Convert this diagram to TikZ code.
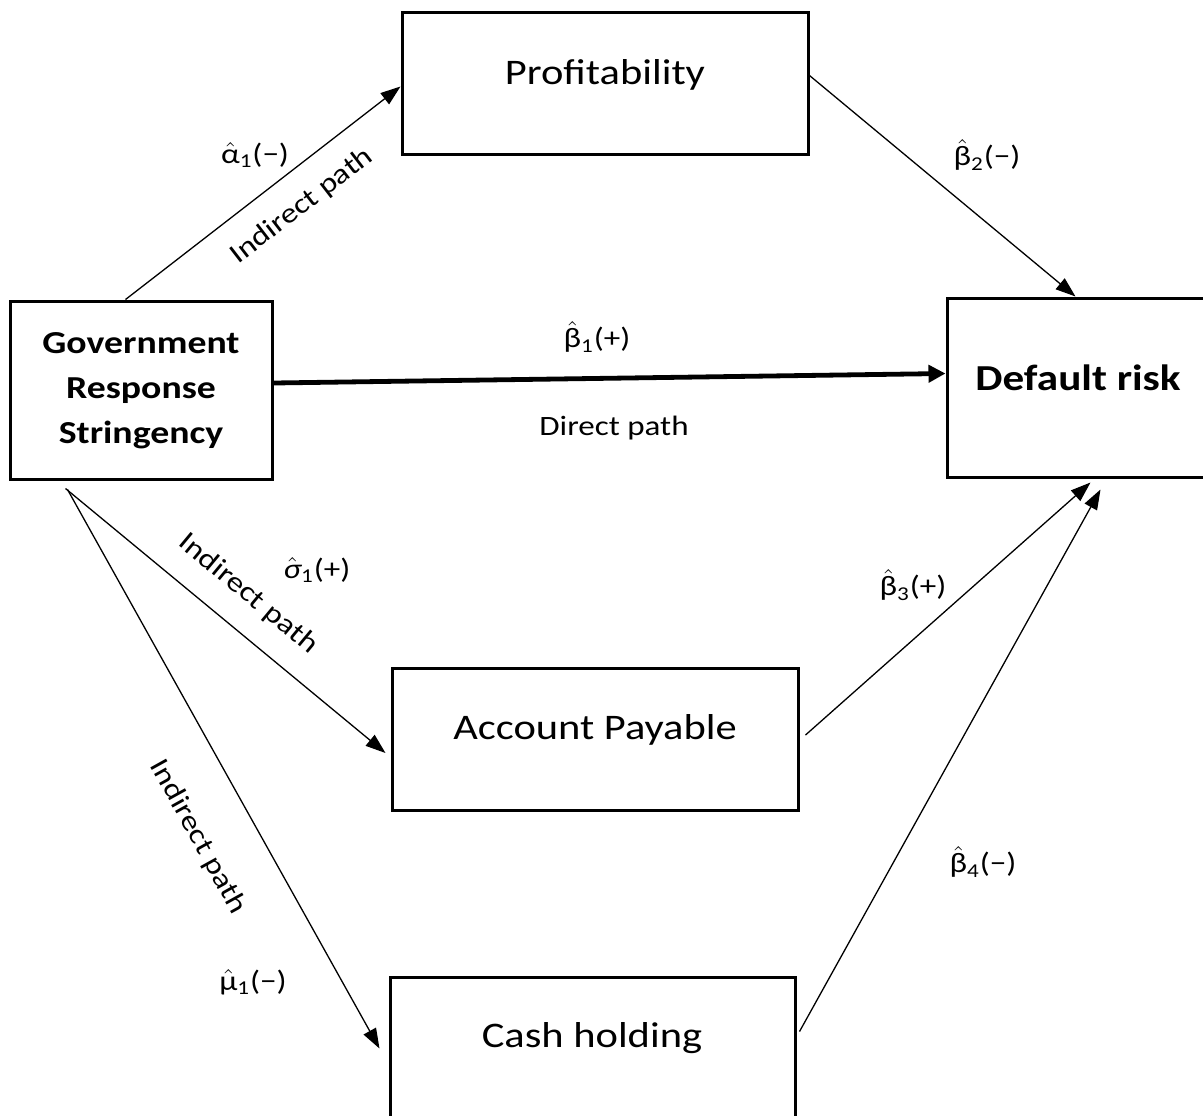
\documentclass[tikz,border=0pt]{standalone}
\usepackage{fontspec}
\setmainfont{Carlito}[FakeStretch=1.18]
\usetikzlibrary{arrows.meta,calc,fit}

% estimate with a hat: symbol, subscript, sign
\newcommand\est[3]{\ensuremath{\hat{\mbox{#1}}}\textsubscript{#2}(#3)}

\begin{document}
\begin{tikzpicture}[x=0.5pt,y=0.5pt,
  box/.style={draw, line width=1.5pt, inner sep=0pt},
  link/.style={line width=0.65pt, -{Triangle[length=10pt,width=7pt]}},
  mainlink/.style={line width=2.4pt, -{Triangle[length=8.5pt,width=8.5pt]}},
  boxtext/.style={font=\fontsize{18}{21}\selectfont, inner sep=0pt},
  headtext/.style={font=\bfseries\fontsize{16}{22.5}\selectfont, align=center, inner sep=0pt},
  lbl/.style={font=\fontsize{14}{17}\selectfont, inner sep=0pt},
]
\fill[white] (0,0) rectangle (1203,-1115);
\useasboundingbox (0,0) rectangle (1203,-1115);

% boxes
\node[box, fit={(10,-301) (272,-479)}] (gov) {};
\node[box, fit={(402,-12) (808,-154)}] (prof) {};
\node[box, fit={(947,-298) (1210,-477)}] (risk) {};
\node[box, fit={(392,-668) (798,-810)}] (pay) {};
\node[box, fit={(390,-977) (795,-1130)}] (cash) {};

% box texts
\node[headtext] (govtext) at (141,-391) {Government\\Response\\Stringency};
\node[boxtext] (proftext) at (605,-75) {Profitability};
\node[headtext, font=\bfseries\fontsize{18.3}{21}\selectfont] (risktext) at (1078,-378) {Default risk};
\node[boxtext] (paytext) at (595,-730) {Account Payable};
\node[boxtext] (cashtext) at (592,-1038) {Cash holding};

% connector end points on the boxes
\coordinate (g1) at ($(gov.north west)+(117,0)$);
\coordinate (g2) at ($(gov.east)+(0,7)$);
\coordinate (g3) at ($(gov.south west)+(57,-8)$);
\coordinate (g4) at ($(gov.south west)+(59,-9)$);
\coordinate (p1) at ($(prof.north west)+(0,-76)$);
\coordinate (p2) at ($(prof.north east)+(0,-65)$);
\coordinate (r1) at ($(risk.north west)+(130,0)$);
\coordinate (r2) at ($(risk.west)+(0,14)$);
\coordinate (r3) at ($(risk.south west)+(145,-4)$);
\coordinate (r4) at ($(risk.south west)+(155,-11)$);
\coordinate (a1) at ($(pay.west)+(-5,-14)$);
\coordinate (a2) at ($(pay.east)+(6,4)$);
\coordinate (c1) at ($(cash.north west)+(-9,-73)$);
\coordinate (c2) at ($(cash.north east)+(3,-56)$);

% connectors
\draw[link] (g1) -- (p1);
\draw[link] (p2) -- (r1);
\draw[mainlink] (g2) -- (r2);
\draw[link] (g3) -- (a1);
\draw[link] (g4) -- (c1);
\draw[link] (a2) -- (r3);
\draw[link] (c2) -- (r4);

% coefficient labels
\node[lbl] (alpha1) at (255,-155) {\est{α}{1}{−}};
\node[lbl] (beta2) at (987,-155) {\est{β}{2}{−}};
\node[lbl] (beta1) at (597,-337) {\est{β}{1}{+}};
\node[lbl] (sigma1) at (317,-570) {\est{\itshape σ}{1}{+}};
\node[lbl] (beta3) at (913,-585) {\est{β}{3}{+}};
\node[lbl] (beta4) at (983,-862) {\est{β}{4}{−}};
\node[lbl] (mu1) at (253,-982) {\est{μ}{1}{−}};

% path labels
\node[lbl] (direct) at (614,-428) {Direct path};
\node[lbl, rotate=37.6] (ind1) at (302,-206) {Indirect path};
\node[lbl, rotate=-39.7] (ind2) at (248,-594) {Indirect path};
\node[lbl, rotate=-61] (ind3) at (198,-837) {Indirect path};
\end{tikzpicture}
\end{document}
